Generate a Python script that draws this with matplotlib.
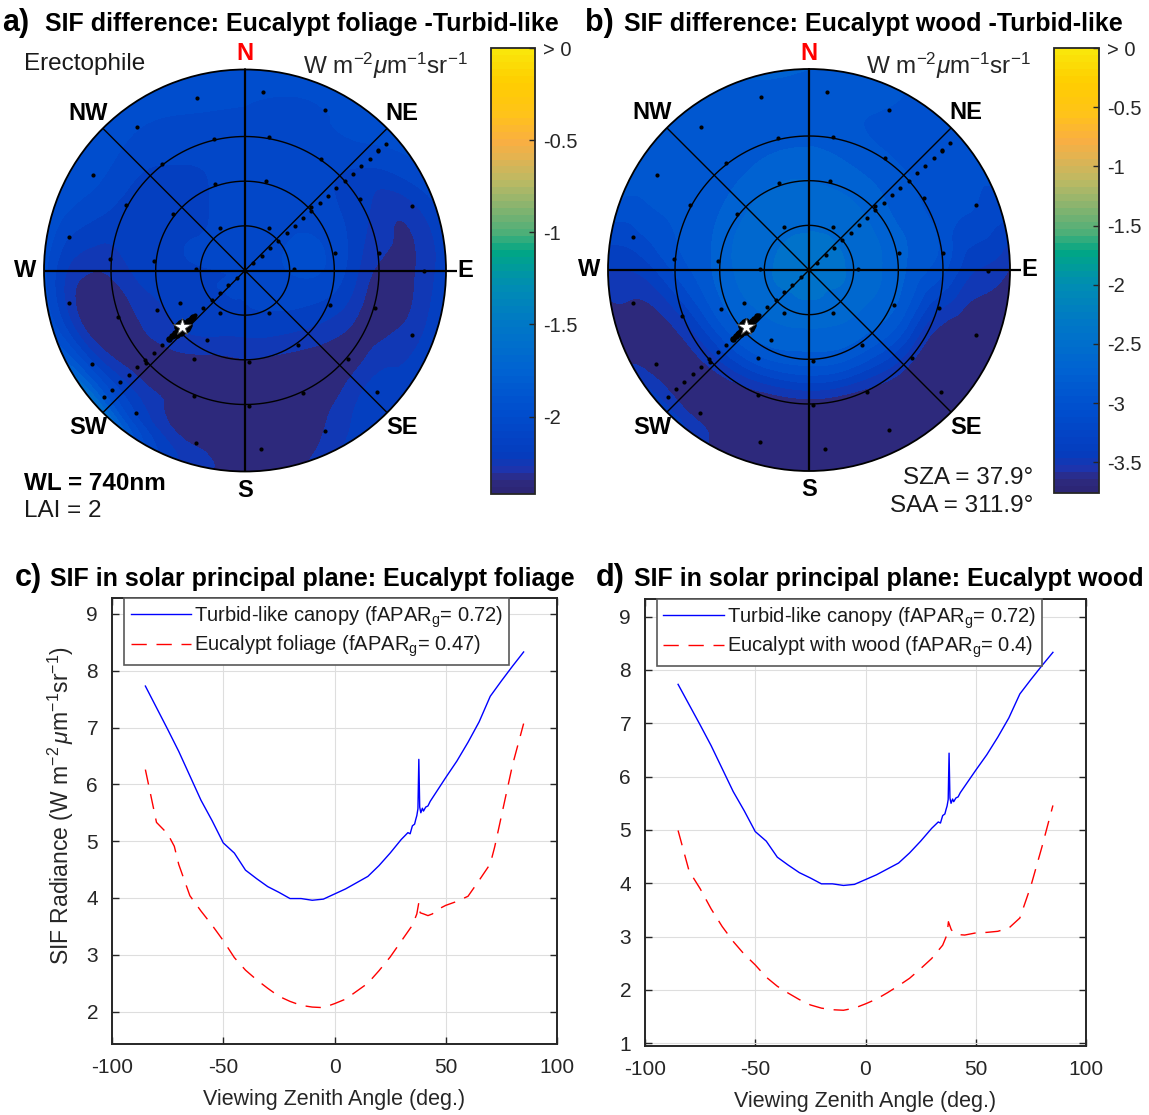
import numpy as np
import matplotlib
matplotlib.use("Agg")
import matplotlib.pyplot as plt
from matplotlib.colors import LinearSegmentedColormap, ListedColormap, Normalize
from matplotlib.cm import ScalarMappable
from matplotlib.tri import Triangulation, UniformTriRefiner

plt.rcParams["font.family"] = ["Liberation Sans", "DejaVu Sans"]
plt.rcParams["axes.unicode_minus"] = False
plt.rcParams["mathtext.fontset"] = "custom"
plt.rcParams["mathtext.rm"] = "Liberation Sans"
plt.rcParams["mathtext.it"] = "Liberation Sans:italic"
plt.rcParams["mathtext.bf"] = "Liberation Sans:bold"

# ---------------- data ----------------
# SIF difference maps, read on a polar grid (rows = azimuth N, NNE, ... NNW; cols = VZA)
map_az = [0, 22.5, 45, 67.5, 90, 112.5, 135, 157.5, 180, 202.5, 225, 247.5, 270, 292.5, 315, 337.5]
map_vza = [0, 15, 30, 45, 60, 75, 90]

diff_foliage = [
    [-2.10, -2.10, -2.08, -2.05, -2.06, -2.01, -1.94],
    [-2.10, -2.08, -2.05, -2.06, -2.08, -2.04, -1.97],
    [-2.10, -2.05, -2.03, -2.08, -2.12, -2.05, -1.98],
    [-2.10, -2.03, -2.00, -2.08, -2.22, -2.28, -2.10],
    [-2.10, -2.03, -2.00, -2.12, -2.34, -2.33, -2.15],
    [-2.10, -2.05, -2.08, -2.20, -2.37, -2.30, -2.15],
    [-2.10, -2.08, -2.15, -2.30, -2.38, -2.22, -2.15],
    [-2.10, -2.10, -2.20, -2.36, -2.38, -2.37, -2.28],
    [-2.10, -2.12, -2.22, -2.37, -2.39, -2.39, -2.37],
    [-2.10, -2.12, -2.20, -2.36, -2.38, -2.37, -2.18],
    [-2.10, -2.12, -2.16, -2.28, -2.38, -2.18, -1.62],
    [-2.10, -2.12, -2.15, -2.26, -2.37, -2.33, -1.90],
    [-2.10, -2.12, -2.13, -2.16, -2.30, -2.28, -1.98],
    [-2.10, -2.10, -2.12, -2.15, -2.15, -2.06, -1.92],
    [-2.10, -2.10, -2.13, -2.17, -2.13, -2.04, -1.95],
    [-2.10, -2.10, -2.10, -2.12, -2.08, -2.02, -1.93],
]

diff_wood = [
    [-2.48, -2.50, -2.57, -2.72, -2.86, -2.88, -2.82],
    [-2.48, -2.50, -2.58, -2.76, -2.92, -2.98, -2.95],
    [-2.48, -2.50, -2.60, -2.80, -2.96, -3.05, -3.05],
    [-2.48, -2.50, -2.62, -2.82, -3.00, -3.10, -3.15],
    [-2.48, -2.50, -2.63, -2.85, -3.10, -3.45, -3.62],
    [-2.48, -2.50, -2.65, -2.90, -3.50, -3.72, -3.72],
    [-2.48, -2.52, -2.68, -2.97, -3.55, -3.72, -3.72],
    [-2.48, -2.52, -2.70, -3.02, -3.65, -3.73, -3.73],
    [-2.48, -2.52, -2.72, -3.05, -3.68, -3.73, -3.73],
    [-2.48, -2.52, -2.70, -3.02, -3.65, -3.73, -3.72],
    [-2.48, -2.52, -2.68, -2.97, -3.55, -3.70, -3.35],
    [-2.48, -2.50, -2.65, -2.92, -3.45, -3.70, -3.68],
    [-2.48, -2.50, -2.62, -2.85, -3.10, -3.40, -3.45],
    [-2.48, -2.50, -2.60, -2.80, -2.95, -2.97, -2.95],
    [-2.48, -2.50, -2.58, -2.76, -2.92, -2.97, -2.92],
    [-2.48, -2.50, -2.56, -2.72, -2.86, -2.88, -2.84],
]

cbar_min_foliage = -2.42
cbar_min_wood = -3.76
cbar_ticks_foliage = [-2, -1.5, -1, -0.5, 0]
cbar_labels_foliage = ["-2", "-1.5", "-1", "-0.5", "> 0"]
cbar_ticks_wood = [-3.5, -3, -2.5, -2, -1.5, -1, -0.5, 0]
cbar_labels_wood = ["-3.5", "-3", "-2.5", "-2", "-1.5", "-1", "-0.5", "> 0"]

# simulated viewing directions (zenith of ring, azimuths on ring)
ring_vza = [80.3, 60.6, 41.0, 22.1]
ring_az = [
    [5.6, 26.5, 47.9, 68.9, 90.3, 111.1, 132.7, 153.5, 175.0, 196.0, 217.3, 238.5, 259.4, 280.7, 302.0, 322.9, 344.4],
    [10.3, 34.3, 58.1, 82.6, 106.3, 130.6, 154.6, 178.3, 202.3, 227.1, 250.0, 274.7, 298.8, 322.1, 346.8],
    [13.2, 45.9, 79.3, 112.2, 144.7, 177.5, 275.8, 308.1, 341.0],
    [29.7, 88.8, 150.3, 210.0, 271.2, 330.0],
]
extra_vza = [45.7, 35.5, 43.1, 32.5]
extra_az = [210.0, 208.7, 245.8, 243.2]

# principal plane samples (negative VZA -> forward azimuth, positive -> backward)
pp_az_fwd, pp_az_bwd = 48.1, 228.1
pp_vza = [-85, -80, -75, -70, -65, -60, -55, -50, -45, -40, -35, -30, -25, -20, -15, -10, -5, 0,
          5, 10, 15, 20, 25, 30, 35, 40, 45, 50, 55, 60, 65, 70, 75, 80, 85]
hotspot_vza = [31, 32, 33, 34, 35.5, 36, 36.5, 37, 37.5, 38, 38.5, 39, 39.5, 41, 42, 43, 44, 46,
               35, 36, 37, 38, 39, 40, 36.5, 37.5, 38.5, 39.5, 40, 42]
hotspot_az = [228.1, 228.1, 228.1, 228.1, 228.1, 228.1, 228.1, 228.1, 228.1, 228.1, 228.1, 228.1,
              228.1, 228.1, 228.1, 228.1, 228.1, 228.1,
              225.5, 225.0, 224.8, 225.2, 225.6, 226.0, 231.0, 231.2, 231.0, 230.5, 226.5, 226.8]
sun_vza, sun_az = 37.9, 228.1

# SIF in the solar principal plane
turbid_vza = [-85, -80, -75, -70, -65, -60, -55, -50, -45, -40, -35, -30, -25, -20, -15, -10, -5, 0,
              5, 10, 15, 20, 25, 30, 33, 34, 35, 36, 36.5, 37, 37.5, 37.9, 38.3, 38.8, 39.5, 40,
              41, 42, 43, 45, 50, 55, 60, 65, 70, 75, 80, 85]
turbid_sif = [7.73, 7.35, 6.97, 6.58, 6.15, 5.72, 5.36, 4.97, 4.79, 4.49, 4.34, 4.20, 4.10, 3.99,
              3.99, 3.96, 3.98, 4.07, 4.16, 4.27, 4.38, 4.57, 4.79, 5.03, 5.15, 5.13, 5.27, 5.30,
              5.38, 5.45, 5.57, 6.44, 5.60, 5.50, 5.58, 5.53, 5.60, 5.62, 5.70, 5.82, 6.12, 6.41,
              6.74, 7.10, 7.55, 7.82, 8.08, 8.33]

foliage_vza = [-85, -80, -75, -72, -70, -65, -60, -55, -50, -45, -40, -35, -30, -25, -20, -15, -10,
               -5, 0, 5, 10, 15, 20, 25, 30, 35, 37, 37.9, 38.5, 40, 42, 44, 46, 50, 55, 60, 65,
               70, 72, 75, 80, 85]
foliage_sif = [6.26, 5.33, 5.13, 4.91, 4.59, 4.04, 3.77, 3.52, 3.25, 2.95, 2.73, 2.56, 2.41, 2.27,
               2.18, 2.11, 2.08, 2.07, 2.14, 2.22, 2.36, 2.50, 2.72, 2.96, 3.24, 3.52, 3.72, 3.92,
               3.74, 3.72, 3.69, 3.72, 3.79, 3.87, 3.94, 4.03, 4.31, 4.60, 4.90, 5.44, 6.34, 7.07]

wood_vza = [-85, -80, -75, -70, -65, -60, -55, -50, -45, -40, -35, -30, -25, -20, -15, -10, -5, 0,
            5, 10, 15, 20, 25, 30, 35, 37, 37.6, 38.9, 40, 41.5, 45, 50, 55, 60, 65, 70, 75, 80, 85]
wood_sif = [4.99, 4.23, 3.90, 3.52, 3.19, 2.91, 2.67, 2.47, 2.24, 2.07, 1.94, 1.82, 1.72, 1.66,
            1.63, 1.62, 1.66, 1.74, 1.83, 1.95, 2.08, 2.22, 2.40, 2.59, 2.84, 3.04, 3.28, 3.13,
            3.08, 3.04, 3.03, 3.07, 3.08, 3.10, 3.16, 3.35, 3.95, 4.68, 5.46]

# ---------------- colormap (parula-like, 64 steps) ----------------
anchors = [
    (0.000, (44, 38, 118)), (0.025, (46, 42, 128)), (0.045, (30, 52, 172)),
    (0.080, (5, 60, 190)), (0.180, (0, 78, 206)), (0.280, (0, 100, 210)),
    (0.380, (0, 120, 198)), (0.460, (0, 140, 180)), (0.520, (0, 158, 150)),
    (0.545, (0, 166, 132)), (0.590, (80, 175, 120)), (0.650, (140, 180, 110)),
    (0.700, (185, 185, 100)), (0.750, (220, 180, 85)), (0.800, (250, 175, 65)),
    (0.860, (255, 195, 25)), (0.930, (255, 205, 0)), (1.000, (250, 230, 10)),
]
smooth = LinearSegmentedColormap.from_list(
    "parula_like", [(p, tuple(c / 255 for c in rgb)) for p, rgb in anchors])
parula = ListedColormap(smooth(np.linspace(0, 1, 64)))

W_PX, H_PX = 1149, 1115
fig = plt.figure(figsize=(W_PX / 100, H_PX / 100), dpi=100)


def rect(x0, y0, x1, y1):
    return [x0 / W_PX, 1 - y1 / H_PX, (x1 - x0) / W_PX, (y1 - y0) / H_PX]


def polar_map(box, table, vmin):
    ax = fig.add_axes(rect(*box), projection="polar")
    ax.set_theta_zero_location("N")
    ax.set_theta_direction(-1)

    az = np.array(map_az + [360.0])
    vals = np.array(table + [table[0]])
    n_a, n_r = vals.shape
    A, R = np.meshgrid(az, map_vza, indexing="ij")
    idx = np.arange(n_a * n_r).reshape(n_a, n_r)
    tris = []
    for i in range(n_a - 1):
        for j in range(n_r - 1):
            tris.append([idx[i, j], idx[i + 1, j], idx[i + 1, j + 1]])
            tris.append([idx[i, j], idx[i + 1, j + 1], idx[i, j + 1]])
    tri = Triangulation(A.ravel(), R.ravel(), np.array(tris))
    tri_f, z_f = UniformTriRefiner(tri).refine_field(vals.ravel(), subdiv=3)
    tri_p = Triangulation(np.radians(tri_f.x), tri_f.y, tri_f.triangles)
    ax.tricontourf(tri_p, np.clip(z_f, vmin, 0), levels=np.linspace(vmin, 0, 25),
                   cmap=parula, norm=Normalize(vmin, 0))

    th = np.linspace(0, 2 * np.pi, 361)
    for rr in (20, 40, 60):
        ax.plot(th, np.full_like(th, rr), color="k", lw=1.0)
    for a in (0, 90, 180, 270):
        ax.plot([np.radians(a)] * 2, [0, 95 if a == 90 else 90], color="k", lw=1.6,
                clip_on=False, solid_capstyle="butt")
    for a in (45, 135, 225, 315):
        ax.plot([np.radians(a)] * 2, [0, 90], color="k", lw=1.0)

    # sample points
    for rv, azs in zip(ring_vza, ring_az):
        ax.scatter(np.radians(azs), [rv] * len(azs), s=9, c="k", zorder=5, lw=0)
    ax.scatter(np.radians(extra_az), extra_vza, s=9, c="k", zorder=5, lw=0)
    pp_theta = [np.radians(pp_az_bwd if v > 0 else pp_az_fwd) for v in pp_vza]
    ax.scatter(pp_theta, np.abs(pp_vza), s=9, c="k", zorder=5, lw=0)
    ax.scatter(np.radians(hotspot_az), hotspot_vza, s=22, c="k", zorder=5, lw=0)
    ax.plot(np.radians(sun_az), sun_vza, marker="*", ms=13, mfc="white", mec="0.3",
            mew=0.6, zorder=6)

    for lab, a in [("N", 0), ("E", 90), ("S", 180), ("W", 270)]:
        ax.text(np.radians(a), 97 if lab == "N" else 98.5, lab, ha="center", va="center",
                fontsize=17, fontweight="bold", color="red" if lab == "N" else "k",
                clip_on=False)
    for lab, a in [("NE", 45), ("SE", 135), ("SW", 225), ("NW", 315)]:
        ax.text(np.radians(a), 99.5, lab, ha="center", va="center", fontsize=17,
                fontweight="bold", color="k", clip_on=False)

    ax.set_ylim(0, 90)
    ax.set_xticks([])
    ax.set_yticks([])
    ax.grid(False)
    ax.spines["polar"].set_linewidth(1.3)
    return ax


def add_cbar(box, vmin, ticks, labels):
    cax = fig.add_axes(rect(*box))
    sm = ScalarMappable(norm=Normalize(vmin, 0), cmap=parula)
    cb = fig.colorbar(sm, cax=cax, ticks=ticks)
    cb.ax.set_yticklabels(labels)
    cb.ax.tick_params(direction="in", length=4, width=1, labelsize=14.5, colors="0.15",
                      right=True, left=False, pad=6)
    cb.outline.set_linewidth(1.3)
    cb.outline.set_edgecolor("0.15")


UNITS = r"W m$^{-2}$$\mu$m$^{-1}$sr$^{-1}$"
UNITS_LABEL = r"W m$^{-2}\,\mu$m$^{-1}$sr$^{-1}$"

polar_map((44, 69.5, 446, 471.5), diff_foliage, cbar_min_foliage)
add_cbar((491, 48, 535, 494), cbar_min_foliage, cbar_ticks_foliage, cbar_labels_foliage)
polar_map((608, 69, 1010, 471), diff_wood, cbar_min_wood)
add_cbar((1054, 48, 1099, 493), cbar_min_wood, cbar_ticks_wood, cbar_labels_wood)


def ftext(x, y, s, **kw):
    fig.text(x / W_PX, 1 - y / H_PX, s, **kw)


ftext(2, 31, "a)", fontsize=22, fontweight="bold", va="baseline")
ftext(45, 31, "SIF difference: Eucalypt foliage -Turbid-like", fontsize=18,
      fontweight="bold", va="baseline")
ftext(585, 31, "b)", fontsize=22, fontweight="bold", va="baseline")
ftext(624, 31, "SIF difference: Eucalypt wood -Turbid-like", fontsize=18,
      fontweight="bold", va="baseline")

ftext(24, 64, "Erectophile", fontsize=17.5, va="center", color="0.1")
ftext(468, 66, UNITS, fontsize=17.5, va="center", ha="right", color="0.15")
ftext(1031, 66, UNITS, fontsize=17.5, va="center", ha="right", color="0.15")
ftext(24, 483, "WL = 740nm", fontsize=17.5, fontweight="bold", va="center")
ftext(24, 511, "LAI = 2", fontsize=17.5, va="center", color="0.1")
ftext(1033, 478, "SZA = 37.9\u00b0", fontsize=17.5, va="center", ha="right", color="0.1")
ftext(1033, 506, "SAA = 311.9\u00b0", fontsize=17.5, va="center", ha="right", color="0.1")


def pp_axes(box, red_vza, red_sif, red_label, ylim, yticks, ylabel=None):
    ax = fig.add_axes(rect(*box))
    ax.plot(turbid_vza, turbid_sif, color="blue", lw=1.0,
            label=r"Turbid-like canopy (fAPAR$_\mathrm{g}$= 0.72)")
    ax.plot(red_vza, red_sif, color="red", lw=1.0, dashes=(11, 7), label=red_label)
    ax.set_xlim(-100, 100)
    ax.set_ylim(*ylim)
    ax.set_xticks([-100, -50, 0, 50, 100])
    ax.set_yticks(yticks)
    ax.grid(True, color="0.87", lw=0.8)
    ax.set_axisbelow(True)
    ax.tick_params(direction="in", length=5, width=1, top=True, right=True,
                   labelsize=15, colors="0.15", pad=10)
    for sp in ax.spines.values():
        sp.set_linewidth(1.4)
        sp.set_color("0.15")
    ax.set_xlabel("Viewing Zenith Angle (deg.)", fontsize=15.5, color="0.15", labelpad=9)
    if ylabel:
        ax.set_ylabel(ylabel, fontsize=16.5, color="0.15")
        ax.yaxis.set_label_coords(-0.08, 0.535)
    leg = ax.legend(loc="upper left", bbox_to_anchor=(0.028, 1.0), borderaxespad=0,
                    fancybox=False, edgecolor="0.35", fontsize=14.5, handlelength=3.0,
                    handletextpad=0.15, borderpad=0.3, labelspacing=0.2, framealpha=1)
    leg.get_frame().set_linewidth(1.2)
    for t in leg.get_texts():
        t.set_color("0.1")
    return ax


pp_axes((112, 598, 557, 1044), foliage_vza, foliage_sif,
        r"Eucalypt foliage (fAPAR$_\mathrm{g}$= 0.47)", (1.43, 9.28), [2, 3, 4, 5, 6, 7, 8, 9],
        ylabel="SIF Radiance (" + UNITS_LABEL + ")")
pp_axes((645, 599, 1086, 1046), wood_vza, wood_sif,
        r"Eucalypt with wood (fAPAR$_\mathrm{g}$= 0.4)", (0.95, 9.33),
        [1, 2, 3, 4, 5, 6, 7, 8, 9])

ftext(15, 586, "c)", fontsize=22, fontweight="bold", va="baseline")
ftext(50, 586, "SIF in solar principal plane: Eucalypt foliage", fontsize=18,
      fontweight="bold", va="baseline")
ftext(596, 586, "d)", fontsize=22, fontweight="bold", va="baseline")
ftext(634, 586, "SIF in solar principal plane: Eucalypt wood", fontsize=18,
      fontweight="bold", va="baseline")

fig.savefig("out.png", dpi=100)
